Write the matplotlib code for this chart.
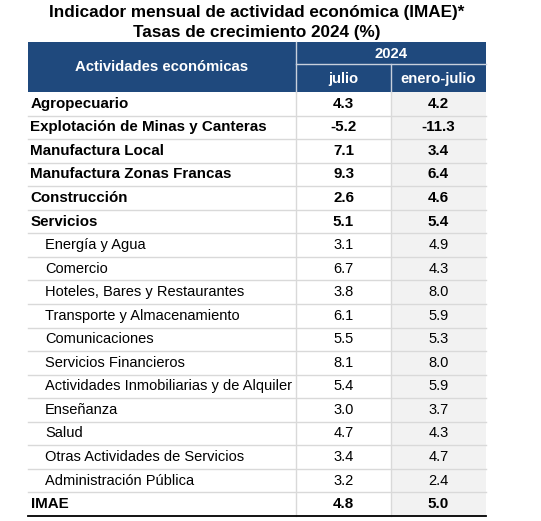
import matplotlib.pyplot as plt
from matplotlib.patches import Rectangle

plt.rcParams['font.family'] = ['Liberation Sans', 'DejaVu Sans']

title_lines = ['Indicador mensual de actividad económica (IMAE)*',
               'Tasas de crecimiento 2024 (%)']
header_main = 'Actividades económicas'
header_year = '2024'
col_labels = ['julio', 'enero-julio']

activities = ['Agropecuario', 'Explotación de Minas y Canteras', 'Manufactura Local',
              'Manufactura Zonas Francas', 'Construcción', 'Servicios',
              'Energía y Agua', 'Comercio', 'Hoteles, Bares y Restaurantes',
              'Transporte y Almacenamiento', 'Comunicaciones', 'Servicios Financieros',
              'Actividades Inmobiliarias y de Alquiler', 'Enseñanza', 'Salud',
              'Otras Actividades de Servicios', 'Administración Pública', 'IMAE']
julio = [4.3, -5.2, 7.1, 9.3, 2.6, 5.1, 3.1, 6.7, 3.8, 6.1, 5.5, 8.1, 5.4, 3.0, 4.7, 3.4, 3.2, 4.8]
enero_julio = [4.2, -11.3, 3.4, 6.4, 4.6, 5.4, 4.9, 4.3, 8.0, 5.9, 5.3, 8.0, 5.9, 3.7, 4.3, 4.7, 2.4, 5.0]
is_main = [True] * 6 + [False] * 11 + [True]

navy = '#1F497D'
grid = '#D9D9D9'

fig = plt.figure(figsize=(5.41, 5.21), dpi=100)
ax = fig.add_axes([0, 0, 1, 1])
ax.set_xlim(0, 541)
ax.set_ylim(521, 0)
ax.axis('off')

x0, x1, x2, x3 = 28, 296, 391, 486
h_top, h_mid, h_bot = 42, 64, 92
row_h = 23.55
n = len(activities)
y_end = h_bot + n * row_h

# title, two centred lines
for k, line in enumerate(title_lines):
    ax.text(257, 12 + k * 20.5, line, ha='center', va='center', fontsize=12.3,
            fontweight='bold')

# header
ax.add_patch(Rectangle((x0, h_top), x3 - x0, h_bot - h_top, color=navy, lw=0))
ax.plot([x1, x1], [h_top, h_bot], color='#C8D0DC', lw=1)
ax.plot([x1, x3], [h_mid, h_mid], color='#C8D0DC', lw=1)
ax.plot([x2, x2], [h_mid, h_bot], color='#C8D0DC', lw=1)
ax.text((x0 + x1) / 2, (h_top + h_bot) / 2, header_main, color='white', fontsize=10.7,
        fontweight='bold', ha='center', va='center')
ax.text((x1 + x3) / 2, (h_top + h_mid) / 2 + 1, header_year, color='white', fontsize=10.7,
        fontweight='bold', ha='center', va='center')
for lab, xa, xb in zip(col_labels, [x1, x2], [x2, x3]):
    ax.text((xa + xb) / 2, (h_mid + h_bot) / 2 + 1, lab, color='white', fontsize=10.7,
            fontweight='bold', ha='center', va='center')

# shaded last column
ax.add_patch(Rectangle((x2, h_bot), x3 - x2, y_end - h_bot, color='#F2F2F2', lw=0))

for i, (name, a, b, main) in enumerate(zip(activities, julio, enero_julio, is_main)):
    yc = h_bot + (i + 0.5) * row_h
    wt = 'bold' if main else 'normal'
    fs = 10.9 if main else 10.5
    xt = x0 + 2.5 if main else x0 + 17
    ax.text(xt, yc, name, fontsize=fs, fontweight=wt, ha='left', va='center', color='black')
    ax.text((x1 + x2) / 2, yc, f'{a:.1f}', fontsize=fs, fontweight=wt, ha='center', va='center')
    ax.text((x2 + x3) / 2, yc, f'{b:.1f}', fontsize=fs, fontweight=wt, ha='center', va='center')
    if i < n - 1:
        ax.plot([x0, x3], [h_bot + (i + 1) * row_h] * 2, color=grid, lw=1)

ax.plot([x1, x1], [h_bot, y_end], color=grid, lw=1)
ax.plot([x2, x2], [h_bot, y_end], color=grid, lw=1)
ax.plot([x0, x3], [y_end, y_end], color='black', lw=1.3)

fig.savefig('out.png', dpi=100)
